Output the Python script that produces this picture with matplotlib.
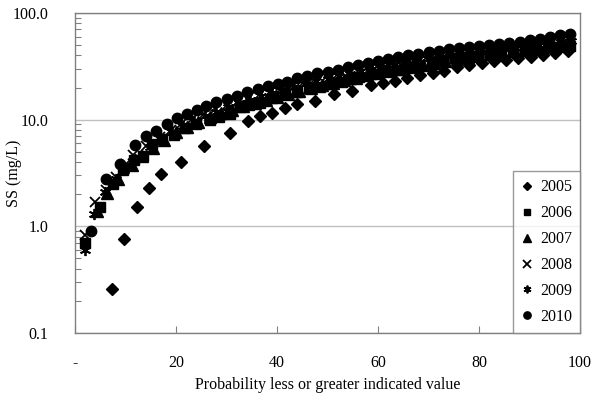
import matplotlib
matplotlib.use("Agg")
import matplotlib.pyplot as plt
from matplotlib.ticker import FixedLocator, FixedFormatter, LogLocator, NullFormatter

plt.rcParams['font.family'] = ['Liberation Serif', 'DejaVu Serif']

# exceedance probability (%) and suspended solids (mg/L) per year
x_2005 = [7.4, 9.7, 12.2, 14.7, 17.0, 20.9, 25.6, 30.6, 34.3, 36.6, 39.1, 41.5, 43.9, 47.5, 51.3,
          54.9, 58.6, 60.9, 63.4, 65.8, 68.3, 70.8, 73.1, 75.6, 78.0, 80.5, 82.9, 85.4, 87.8, 90.2,
          92.7, 95.1, 97.6]
ss_2005 = [0.26, 0.76, 1.5, 2.3, 3.1, 4.0, 5.7, 7.5, 9.7, 10.7, 11.6, 12.8, 13.9, 15.0, 17.4,
           18.7, 21.0, 22.2, 23.2, 24.8, 26.2, 27.5, 28.8, 31.0, 32.5, 34.0, 35.3, 36.5, 37.8, 39.0,
           40.5, 42.0, 44.0]

x_2006 = [2.0, 4.9, 7.5, 9.6, 11.6, 13.5, 15.2, 17.3, 19.6, 21.8, 24.0, 26.7, 28.6, 30.6, 32.7,
          34.5, 36.6, 39.1, 41.6, 43.9, 46.4, 48.5, 50.7, 52.8, 54.6, 56.3, 58.7, 61.0, 63.7, 65.7,
          67.7, 70.6, 72.9, 75.2, 77.5, 79.8, 82.1, 84.4, 86.7, 89.0, 91.3, 93.6, 95.9, 98.0]
ss_2006 = [0.70, 1.53, 2.5, 3.4, 4.2, 4.6, 5.9, 6.6, 7.2, 8.3, 9.0, 10.0, 10.6, 11.3, 13.0,
           13.7, 14.4, 15.9, 17.5, 18.3, 19.7, 20.2, 21.5, 22.7, 24.0, 25.0, 26.8, 28.5, 29.3, 31.0,
           32.6, 35.0, 36.5, 37.6, 38.6, 39.6, 40.6, 41.6, 42.7, 44.0, 45.3, 46.6, 48.0, 49.5]

x_2007 = [4.3, 6.4, 8.6, 11.2, 13.2, 15.4, 17.7, 20.0, 22.2, 24.4, 26.7, 28.9, 31.1, 33.3, 35.6,
          37.8, 40.0, 42.2, 44.4, 46.7, 48.9, 51.1, 53.3, 55.6, 57.8, 60.0, 62.2, 64.4, 66.7, 68.9,
          71.1, 73.3, 75.6, 77.8, 80.0, 82.2, 84.4, 86.7, 88.9, 91.1, 93.3, 95.6, 97.8]
ss_2007 = [1.4, 2.04, 2.78, 3.76, 4.6, 5.4, 6.5, 7.6, 8.6, 9.6, 10.5, 11.5, 12.4, 13.4, 14.4,
           15.4, 16.4, 17.5, 18.6, 19.8, 21.0, 22.2, 23.4, 24.6, 26.0, 27.3, 28.6, 30.0, 31.4, 32.8,
           34.2, 35.6, 37.0, 38.4, 39.7, 41.0, 42.3, 43.6, 45.0, 46.5, 48.0, 50.0, 52.0]

x_2008 = [2.0, 4.0, 6.1, 8.2, 10.2, 11.5, 14.1, 16.8, 19.0, 21.2, 23.4, 25.6, 27.8, 30.0, 32.2,
          34.4, 36.6, 38.8, 41.0, 43.2, 45.4, 47.6, 49.8, 52.0, 54.2, 56.4, 58.6, 60.8, 63.0, 65.2,
          67.4, 69.6, 71.8, 74.0, 76.2, 78.4, 80.6, 82.8, 85.0, 87.2, 89.4, 91.6, 93.8, 96.0, 98.0]
ss_2008 = [0.83, 1.7, 2.2, 2.9, 3.8, 4.7, 5.6, 6.9, 8.0, 9.2, 10.3, 11.4, 12.5, 13.7, 14.9,
           16.2, 17.4, 18.7, 20.0, 21.3, 22.6, 24.0, 25.4, 26.8, 28.2, 29.7, 31.2, 32.7, 34.2, 35.6,
           37.0, 38.4, 39.8, 41.2, 42.5, 43.8, 45.0, 46.2, 47.5, 48.8, 50.2, 51.8, 53.5, 55.5, 57.5]

x_2009 = [2.0, 3.8, 6.0, 8.2, 10.4, 12.6, 14.8, 17.0, 19.2, 21.4, 23.6, 25.8, 28.0, 30.2, 32.4,
          34.6, 36.8, 39.0, 41.2, 43.4, 45.6, 47.8, 50.0, 52.2, 54.4, 56.6, 58.8, 61.0, 63.2, 65.4,
          67.6, 69.8, 72.0, 74.2, 76.4, 78.6, 80.8, 83.0, 85.2, 87.4, 89.6, 91.8, 94.0, 96.2, 98.2]
ss_2009 = [0.6, 1.3, 2.1, 2.8, 3.5, 4.5, 5.5, 6.6, 7.7, 8.8, 9.8, 10.8, 11.9, 13.0, 14.2,
           15.4, 16.6, 17.8, 19.0, 20.3, 21.6, 22.9, 24.2, 25.5, 26.9, 28.3, 29.7, 31.1, 32.5, 33.9,
           35.3, 36.7, 38.0, 39.3, 40.6, 41.9, 43.2, 44.5, 45.8, 47.1, 48.4, 49.8, 51.4, 53.2, 55.0]

x_2010 = [3.1, 6.1, 8.9, 11.9, 14.1, 16.0, 18.2, 20.1, 22.1, 24.1, 25.9, 27.9, 30.0, 32.0, 34.1,
          36.2, 38.2, 40.2, 42.0, 43.9, 46.0, 48.0, 50.0, 52.0, 54.0, 56.0, 58.0, 60.0, 62.0, 64.0,
          66.0, 68.0, 70.0, 72.0, 74.0, 76.0, 78.0, 80.0, 82.0, 84.0, 86.0, 88.0, 90.0, 92.0, 94.0,
          96.0, 98.0]
ss_2010 = [0.9, 2.8, 3.8, 5.8, 7.0, 7.9, 9.1, 10.3, 11.3, 12.3, 13.4, 14.6, 15.5, 16.7, 18.1,
           19.3, 20.7, 21.6, 22.6, 24.4, 25.7, 27.2, 28.2, 29.3, 31.0, 32.2, 34.0, 35.7, 36.8, 38.5,
           40.0, 41.3, 42.9, 44.4, 45.6, 46.8, 48.0, 49.2, 50.4, 51.6, 52.8, 54.0, 55.5, 57.5, 59.5,
           61.5, 64.0]

x_ticks = [0, 20, 40, 60, 80, 100]
x_tick_labels = ['-', '20', '40', '60', '80', '100']
y_ticks = [0.1, 1, 10, 100]
y_tick_labels = ['0.1', '1.0', '10.0', '100.0']

fig = plt.figure(figsize=(5.95, 4.05), dpi=100)
ax = fig.add_axes([0.126, 0.178, 0.849, 0.79])

series = [
    ('2005', x_2005, ss_2005, 'D', 6.5, {}),
    ('2006', x_2006, ss_2006, 's', 7, {}),
    ('2007', x_2007, ss_2007, '^', 8, {}),
    ('2008', x_2008, ss_2008, 'x', 7.5, {'markeredgewidth': 1.3}),
    ('2009', x_2009, ss_2009, (6, 2, 0), 8, {'markeredgewidth': 1.3}),
    ('2010', x_2010, ss_2010, 'o', 7.5, {}),
]
for name, xs, ys, mk, ms, extra in series:
    ax.plot(xs, ys, linestyle='none', marker=mk, markersize=ms, color='black',
            markeredgecolor='black', label=name, **extra)

ax.set_yscale('log')
ax.set_xlim(0, 100)
ax.set_ylim(0.1, 100)

ax.xaxis.set_major_locator(FixedLocator(x_ticks))
ax.xaxis.set_major_formatter(FixedFormatter(x_tick_labels))
ax.yaxis.set_major_locator(FixedLocator(y_ticks))
ax.yaxis.set_major_formatter(FixedFormatter(y_tick_labels))
ax.yaxis.set_minor_locator(LogLocator(base=10, subs=range(2, 10)))
ax.yaxis.set_minor_formatter(NullFormatter())

ax.tick_params(axis='x', direction='in', length=5, width=0.8, color='#808080',
               labelsize=11.5, pad=16)
ax.tick_params(axis='y', which='major', direction='in', length=0, labelsize=11.5, pad=19)
ax.tick_params(axis='y', which='minor', direction='in', length=4, width=0.8, color='#808080')
ax.tick_params(top=False, right=False)

ax.grid(True, axis='y', which='major', color='#c0c0c0', linewidth=1.0)
ax.set_axisbelow(True)
for sp in ax.spines.values():
    sp.set_color('#808080')
    sp.set_linewidth(1.0)

ax.set_xlabel('Probability less or greater indicated value', fontsize=11.5, labelpad=4)
ax.set_ylabel('SS (mg/L)', fontsize=11.5)
ax.yaxis.set_label_coords(-0.105, 0.5)

leg = ax.legend(loc='lower right', frameon=True, fancybox=False, borderaxespad=0,
                fontsize=11.5, markerscale=0.7, handlelength=0.8, handletextpad=0.4,
                labelspacing=0.62, borderpad=0.5)
leg.get_frame().set_edgecolor('#808080')
leg.get_frame().set_linewidth(1.0)

fig.savefig('out.png', dpi=100)
